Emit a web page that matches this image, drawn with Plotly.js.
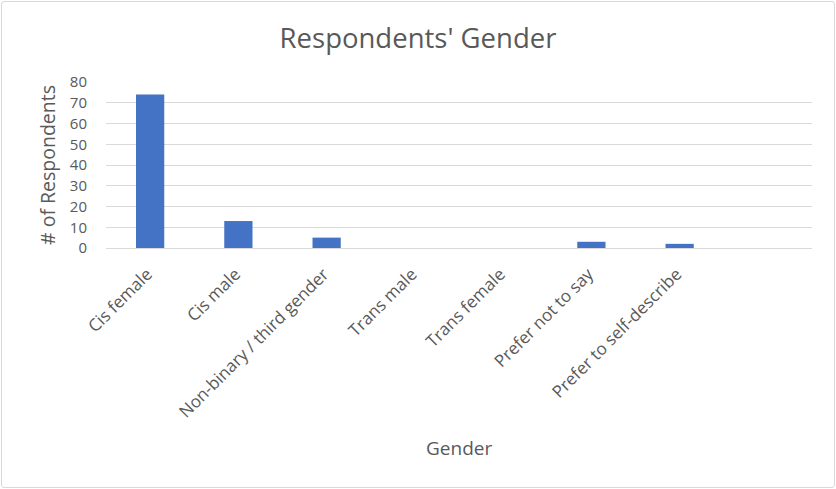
<!DOCTYPE html>
<html>
<head>
<meta charset="utf-8">
<script src="https://cdn.plot.ly/plotly-3.0.1.min.js"></script>
<style>
  html, body { margin: 0; padding: 0; background: #ffffff; }
  #wrap { position: relative; width: 836px; height: 489px; }
  #chart { width: 836px; height: 489px; }
  #frame {
    position: absolute; left: 1px; top: 1px; width: 832px; height: 485px;
    border: 1px solid #d9d9d9; border-radius: 3px; pointer-events: none;
  }
</style>
</head>
<body>
<div id="wrap">
  <div id="chart"></div>
  <div id="frame"></div>
</div>
<script>
// Survey answers: number of respondents per gender option
const categories = [
  "Cis female",
  "Cis male",
  "Non-binary / third gender",
  "Trans male",
  "Trans female",
  "Prefer not to say",
  "Prefer to self-describe",
  " "
];
const respondents = [74, 13, 5, 0, 0, 3, 2, null];

const yTicks = [0, 10, 20, 30, 40, 50, 60, 70, 80];

const textColor = "#595959";
const fontFamily = "'Open Sans', 'Noto Sans', sans-serif";

// Plot area in pixels: used to place the axis titles
const plotTop = 82, plotBottom = 248, plotLeft = 106, plotRight = 812;
const plotH = plotBottom - plotTop, plotW = plotRight - plotLeft;

const trace = {
  type: "bar",
  x: categories,
  y: respondents,
  marker: { color: "#4472c4", line: { width: 0 } },
  hoverinfo: "x+y"
};

const layout = {
  width: 836,
  height: 489,
  margin: { l: plotLeft, r: 836 - plotRight, t: plotTop, b: 489 - plotBottom },
  paper_bgcolor: "#ffffff",
  plot_bgcolor: "#ffffff",
  showlegend: false,
  bargap: 0.68,
  font: { family: fontFamily, color: textColor },
  title: {
    text: "Respondents' Gender",
    font: { size: 27.5, color: textColor, family: fontFamily },
    x: 0.5, xanchor: "center",
    y: 0.922, yanchor: "middle"
  },
  xaxis: {
    type: "category",
    categoryorder: "array",
    categoryarray: categories,
    tickangle: -45,
    tickfont: { size: 17, color: textColor },
    ticklabelstandoff: 12,
    ticklabelshift: -3,
    showgrid: false,
    showline: false,
    zeroline: false,
    ticks: "",
    automargin: false
  },
  yaxis: {
    range: [0, 80],
    tickvals: yTicks,
    ticktext: yTicks.map(String),
    tickfont: { size: 15, color: textColor },
    showgrid: true,
    gridcolor: "#d9d9d9",
    gridwidth: 1,
    zeroline: true,
    zerolinecolor: "#d9d9d9",
    zerolinewidth: 1,
    showline: false,
    ticks: "",
    ticklabelstandoff: 18,
    automargin: false,
    fixedrange: true
  },
  // Axis titles placed as paper-anchored text
  annotations: [
    {
      text: "Gender",
      xref: "paper", yref: "paper",
      x: 0.5, y: (plotBottom - 448) / plotH,
      xanchor: "center", yanchor: "middle",
      showarrow: false,
      font: { size: 19, color: textColor }
    },
    {
      text: "# of Respondents",
      xref: "paper", yref: "paper",
      x: (47 - plotLeft) / plotW, y: 0.5,
      xanchor: "center", yanchor: "middle",
      textangle: -90,
      showarrow: false,
      font: { size: 19.5, color: textColor }
    }
  ]
};

Plotly.newPlot("chart", [trace], layout, { displayModeBar: false, staticPlot: true });
</script>
</body>
</html>
